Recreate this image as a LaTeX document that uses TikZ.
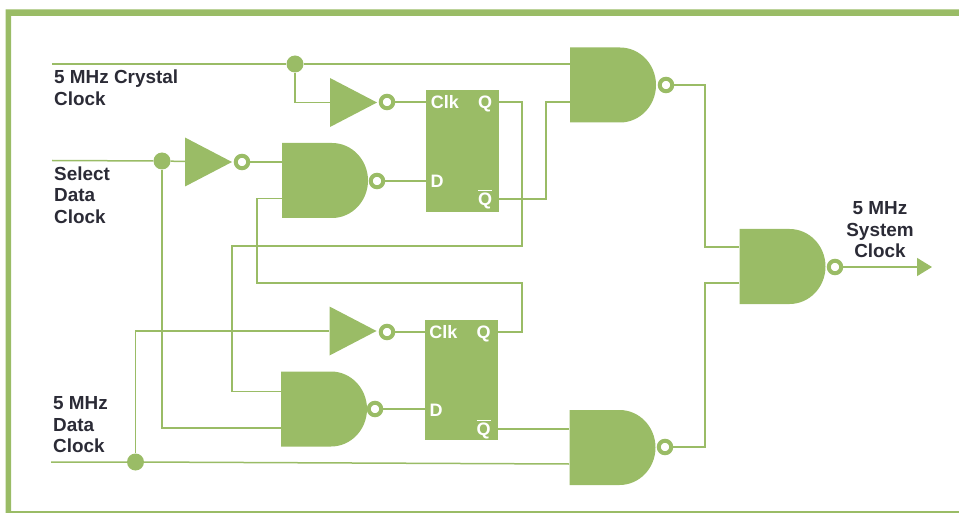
\documentclass[tikz,border=0pt]{standalone}
\usepackage{fontspec}
\setmainfont{Liberation Sans}
\usetikzlibrary{arrows.meta}
\definecolor{gategreen}{HTML}{9ABC66}
\definecolor{labelink}{HTML}{2B2B36}
\newcommand{\barq}{\vbox{\hrule height 1.5pt \kern 1.8pt \hbox{Q}}}
\tikzset{
    wire/.style={draw=gategreen,line width=1.5pt},
    nandbody/.style={minimum width=86pt,minimum height=75pt,inner sep=0pt,
        path picture={\fill[gategreen] (path picture bounding box.north west) -- ++(50pt,0pt)
            arc[start angle=90,end angle=-90,x radius=36pt,y radius=37.5pt]
            -- (path picture bounding box.south west) -- cycle;}},
    invbody/.style={minimum width=47pt,minimum height=49pt,inner sep=0pt,
        path picture={\fill[gategreen] (path picture bounding box.north west)
            -- (path picture bounding box.east) -- (path picture bounding box.south west) -- cycle;}},
    bubble/.style={circle,draw=gategreen,fill=white,line width=4pt,minimum size=12.5pt,inner sep=0pt},
    dot/.style={circle,fill=gategreen,minimum size=17pt,inner sep=0pt},
    flop/.style={fill=gategreen,minimum width=73pt,inner sep=0pt},
    pin/.style={text=white,font=\fontsize{18}{21}\selectfont\bfseries,inner sep=0pt,anchor=base},
    signal/.style={text=labelink,font=\fontsize{18.9}{21.5}\selectfont\bfseries,inner sep=0pt,align=left,anchor=west}
}
\begin{document}
\begin{tikzpicture}[x=1pt,y=-1pt]
    \useasboundingbox (0,0) rectangle (959,513);
    \fill[gategreen] (5.5,513) -- (5.5,9.5) -- (959,9.5) -- (959,16) -- (11,16) -- (11,511.2)
        -- (959,511.2) -- (959,513) -- cycle;
    \def\gs{(325,180.5),(324,409),(613,85),(612.5,447.5),(782.5,266.5)}
    \def\os{(377,181),(375,409),(666,85),(665,447),(835,267)}
    %         1         2        3       4        5
    \foreach \g [count=\i from 1] in \gs {\node[nandbody] (g\i) at \g {};}
    \foreach \o [count=\i from 1] in \os {\node[bubble] (g\i o) at \o {};}
    \def\ns{(353.5,102.5),(208.5,162),(353,331)}
    \def\ms{(387,102),(242,162),(387,332)}
    \foreach \n [count=\i from 1] in \ns {\node[invbody] (n\i) at \n {};}
    \foreach \m [count=\i from 1] in \ms {\node[bubble] (n\i o) at \m {};}
    \node[flop,minimum height=122pt] (ff1) at (462.5,151) {};
    \node[flop,minimum height=120pt] (ff2) at (461.5,380) {};
    \node[dot] (d1) at (295,64) {};
    \node[dot] (d2) at (162,161) {};
    \node[dot] (d3) at (135.5,462) {};
    \coordinate (in1) at (52,64);
    \coordinate (in2) at (52,160.5);
    \coordinate (in3) at (51,462);
    \coordinate (out) at (932,267);
    % flop pins
    \node[pin] (clk1) at (445,108.5) {Clk};
    \node[pin] (q1) at (485,109) {Q};
    \node[pin] (dd1) at (437,187.5) {D};
    \node[pin] (qb1) at (485,205.5) {\barq};
    \node[pin] (clk2) at (443.5,338) {Clk};
    \node[pin] (q2) at (483.5,338) {Q};
    \node[pin] (dd2) at (436,416) {D};
    \node[pin] (qb2) at (483.5,435.5) {\barq};
    % inputs
    \draw[wire] (in1) -- (d1) -- (d1 -| g3.west);
    \draw[wire] (d1) |- (n1);
    \draw[wire] (in2) -- (d2) -- (n2);
    \draw[wire] (d2) |- (281,428);
    \draw[wire] (in3) -- (d3) -- (569,464);
    \draw[wire] (d3) |- (n3);
    % gates to flops
    \draw[wire] (n1o) -- (n1o -| ff1.west);
    \draw[wire] (n2o) -- (n2o -| g1.west);
    \draw[wire] (n3o) -- (n3o -| ff2.west);
    \draw[wire] (g1o) -- (g1o -| ff1.west);
    \draw[wire] (g2o) -- (g2o -| ff2.west);
    % feedback
    \draw[wire] (ff1.east |- n1o) -- (522,102) -- (522,246) -- (232,246) -- (232,391.5) -- (281,391.5);
    \draw[wire] (ff2.east |- n3o) -- (522,332) -- (522,283) -- (257,283) -- (257,198.5) -- (282,198.5);
    \draw[wire] (ff1.east |- 0,199) -- (546,199) -- (546,102) -- (570,102);
    \draw[wire] (ff2.east |- 0,429) -- (569,429);
    % outputs
    \draw[wire] (g3o) -- (705,85) -- (705,247) -- (739,247);
    \draw[wire] (g4o) -- (705,447) -- (705,283) -- (739,283);
    \draw[wire,-{Triangle[length=15pt,width=18pt]},gategreen] (g5o) -- (out);
    \node[signal] (crystal) at (54,87.5) {5 MHz Crystal\\Clock};
    \node[signal] (select) at (54,195) {Select\\Data\\Clock};
    \node[signal] (data) at (53,425) {5 MHz\\Data\\Clock};
    \node[signal,align=center,anchor=center] (system) at (880,230) {5 MHz\\System\\Clock};
\end{tikzpicture}
\end{document}
